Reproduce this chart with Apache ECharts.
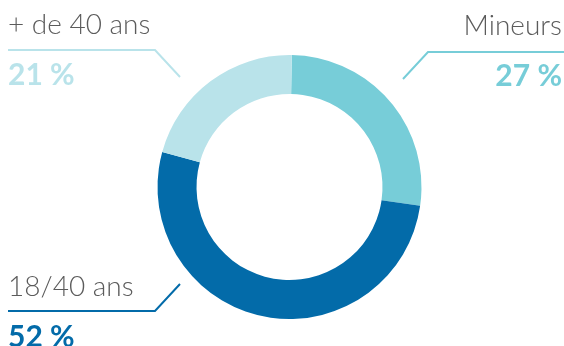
<!DOCTYPE html>
<html>
<head>
<meta charset="utf-8">
<style>
  html, body { margin: 0; padding: 0; background: #fff; }
  #chart { width: 564px; height: 346px; }
</style>
<script src="https://cdn.jsdelivr.net/npm/echarts@6/dist/echarts.min.js"></script>
</head>
<body>
<div id="chart"></div>
<script>
// Répartition par tranche d'âge
const categories = ['Mineurs', '18/40 ans', '+ de 40 ans'];
const shares = [27, 52, 21];
const colors = ['#77cdd8', '#036ba9', '#b9e3ea'];

// Label block placement (top-left / top-right corner) and guide polylines
const labelPos = [
  { x: 562, y: 1, align: 'right', line: [[403, 79], [428, 52], [564, 52]] },
  { x: 8, y: 262, align: 'left', line: [[180, 284], [155, 311], [8, 311]] },
  { x: 8, y: 0, align: 'left', line: [[180, 77], [155, 50], [8, 50]] }
];

const chart = echarts.init(document.getElementById('chart'), null, { renderer: 'canvas' });

const rich = {
  n: { fontFamily: 'Lato', fontSize: 28, fontWeight: 300, color: '#5b5b5b', lineHeight: 50 }
};
colors.forEach((c, i) => {
  rich['v' + i] = { fontFamily: 'Lato', fontSize: 30, fontWeight: 'bold', color: c, lineHeight: 50 };
});

chart.setOption({
  animation: false,
  series: [{
    type: 'pie',
    center: [289.5, 187],
    radius: [93, 132],
    startAngle: 89,
    clockwise: true,
    silent: true,
    data: categories.map((name, i) => ({
      name: name,
      value: shares[i],
      itemStyle: { color: colors[i] }
    })),
    label: {
      show: true,
      position: 'outside',
      formatter: p => '{n|' + p.name + '}\n{v' + p.dataIndex + '|' + p.value + '\u00a0%}',
      rich: rich
    },
    labelLine: {
      show: true,
      lineStyle: { width: 2 }
    },
    labelLayout: function (params) {
      const pos = labelPos[params.dataIndex];
      return {
        x: pos.x,
        y: pos.y,
        align: pos.align,
        verticalAlign: 'top',
        labelLinePoints: pos.line
      };
    }
  }]
});
</script>
</body>
</html>
